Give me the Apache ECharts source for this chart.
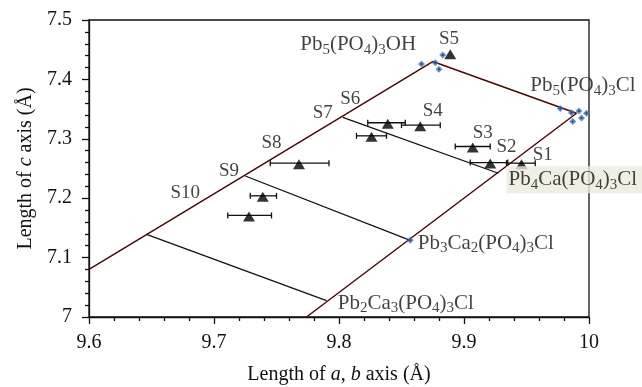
<!DOCTYPE html>
<html>
<head>
<meta charset="utf-8">
<script src="https://cdn.jsdelivr.net/npm/echarts@6/dist/echarts.min.js"></script>
<style>html,body{margin:0;padding:0;background:#fff}#main{width:642px;height:387px}</style>
</head>
<body>
<div id="main"></div>
<script>
// boundary of the solid solution field (a, c)
var boundary = [[9.6, 7.08], [9.875, 7.43], [9.99, 7.343], [9.774, 7.0]];
// tie lines between end members
var ties = [
    [[9.803, 7.336], [9.9275, 7.242]],
    [[9.725, 7.2374], [9.857, 7.129]],
    [[9.646, 7.139], [9.790, 7.0275]],
];
// reference (literature) points
var refX = [9.866, 9.877, 9.880, 9.883, 9.977, 9.986, 9.992, 9.998, 9.987, 9.994, 9.857];
var refY = [7.426, 7.428, 7.417, 7.441, 7.351, 7.344, 7.347, 7.343, 7.329, 7.335, 7.129];
// samples S1..S10
var samples = ["S1", "S2", "S3", "S4", "S5", "S6", "S7", "S8", "S9", "S10"];
var sampleA = [9.946, 9.921, 9.907, 9.865, 9.889, 9.839, 9.826, 9.768, 9.739, 9.728];
var sampleC = [7.259, 7.260, 7.287, 7.323, 7.444, 7.327, 7.305, 7.259, 7.204, 7.171];
var errLow = [9.934, 9.905, 9.893, 9.850, 9.889, 9.823, 9.814, 9.745, 9.729, 9.711];
var errHigh = [9.957, 9.935, 9.921, 9.881, 9.889, 9.853, 9.838, 9.792, 9.750, 9.746];
// where the sample names sit
var nameA = [9.963, 9.934, 9.915, 9.875, 9.888, 9.809, 9.787, 9.746, 9.712, 9.677];
var nameC = [7.273, 7.287, 7.309, 7.346, 7.468, 7.367, 7.343, 7.293, 7.245, 7.209];
// compound labels
var compounds = [
    "{t|Pb}{s|5}{t|(PO}{s|4}{t|)}{s|3}{t|OH}",
    "{t|Pb}{s|5}{t|(PO}{s|4}{t|)}{s|3}{t|Cl}",
    "{t|Pb}{s|4}{t|Ca(PO}{s|4}{t|)}{s|3}{t|Cl}",
    "{t|Pb}{s|3}{t|Ca}{s|2}{t|(PO}{s|4}{t|)}{s|3}{t|Cl}",
    "{t|Pb}{s|2}{t|Ca}{s|3}{t|(PO}{s|4}{t|)}{s|3}{t|Cl}",
];
var compA = [9.769, 9.953, 9.934, 9.863, 9.799];
var compC = [7.458, 7.389, 7.231, 7.124, 7.023];

var ink = "#111", font = "Liberation Serif";
var rich = {t: {fontFamily: font, fontSize: 21, color: ink}, s: {fontFamily: font, fontSize: 15, color: ink, padding: [10, 0, 0, 0]}};
var nameRich = {t: {fontFamily: font, fontSize: 20, color: ink}, i: {fontFamily: font, fontSize: 20, fontStyle: "italic", color: ink}};

var chart = echarts.init(document.getElementById("main"));
var series = [];
series.push({type: "line", data: boundary, symbol: "none", lineStyle: {color: "#4a0808", width: 1.5}, z: 2});
ties.forEach(function(t) {
    series.push({type: "line", data: t, symbol: "none", lineStyle: {color: "#111", width: 1.3}, z: 2});
});
series.push({type: "scatter", data: refX.map(function(x, i) {return [x, refY[i]]}), symbol: "diamond", symbolSize: 7, itemStyle: {color: "#3d74b8"}, z: 3});
series.push({type: "scatter", data: refX.map(function(x, i) {return [x, refY[i]]}), symbol: "circle", symbolSize: 2, itemStyle: {color: "#1b2840"}, z: 4});
series.push({type: "custom", data: samples.map(function(s, i) {return [errLow[i], errHigh[i], sampleC[i]]}),
    encode: {x: [0, 1], y: 2}, z: 5,
    renderItem: function(params, api) {
        var p1 = api.coord([api.value(0), api.value(2)]), p2 = api.coord([api.value(1), api.value(2)]);
        if (p2[0] - p1[0] < 1) {return}
        var st = {stroke: ink, lineWidth: 1.3};
        return {type: "group", children: [
            {type: "line", shape: {x1: p1[0], y1: p1[1], x2: p2[0], y2: p2[1]}, style: st},
            {type: "line", shape: {x1: p1[0], y1: p1[1]-3, x2: p1[0], y2: p1[1]+3}, style: st},
            {type: "line", shape: {x1: p2[0], y1: p2[1]-3, x2: p2[0], y2: p2[1]+3}, style: st},
        ]};
    },
});
series.push({type: "scatter", data: sampleA.map(function(x, i) {return [x, sampleC[i]]}), symbol: "triangle", symbolSize: [12, 10], symbolOffset: [0, 1], itemStyle: {color: "#000"}, z: 6});
series.push({type: "scatter", silent: true, symbolSize: 0, z: 7,
    data: samples.map(function(s, i) {return {name: s, value: [nameA[i], nameC[i]]}}),
    label: {show: true, position: [0, 0], align: "center", verticalAlign: "middle", formatter: "{b}", fontFamily: font, fontSize: 19, color: ink},
});
series.push({type: "scatter", silent: true, symbolSize: 0, z: 7,
    data: compounds.map(function(s, i) {
        var d = {value: [compA[i], compC[i]], label: {formatter: s}};
        if (i == 2) {d.label.backgroundColor = "#ebebdf"; d.label.padding = [1, 14, 1, 2]}
        return d;
    }),
    label: {show: true, position: [0, 0], align: "left", verticalAlign: "middle", rich: rich},
});

var axisCommon = {
    type: "value", splitLine: {show: false},
    axisLine: {show: true, lineStyle: {color: ink, width: 1.3}},
    axisTick: {show: true, length: 7, lineStyle: {color: ink, width: 1.3}},
    minorTick: {show: true, splitNumber: 5, length: 4, lineStyle: {color: ink, width: 1.3}},
    axisLabel: {fontFamily: font, fontSize: 20, color: ink},
    nameLocation: "middle",
};
chart.setOption({
    animation: false,
    grid: {left: 89, right: 53, top: 20, bottom: 70, outerBoundsMode: "none", show: true, borderColor: ink, borderWidth: 1.3},
    xAxis: echarts.util.merge({
        min: 9.6, max: 10, interval: 0.1, nameGap: 48,
        name: "{t|Length of }{i|a}{t|, }{i|b}{t| axis (Å)}",
        nameTextStyle: {rich: nameRich},
        axisLabel: {margin: 16},
    }, axisCommon),
    yAxis: echarts.util.merge({
        min: 7, max: 7.5, interval: 0.1, nameGap: 52,
        name: "{t|Length of }{i|c}{t| axis (Å)}",
        nameTextStyle: {rich: nameRich},
        axisLabel: {margin: 17},
    }, axisCommon),
    series: series,
});
</script>
</body>
</html>
